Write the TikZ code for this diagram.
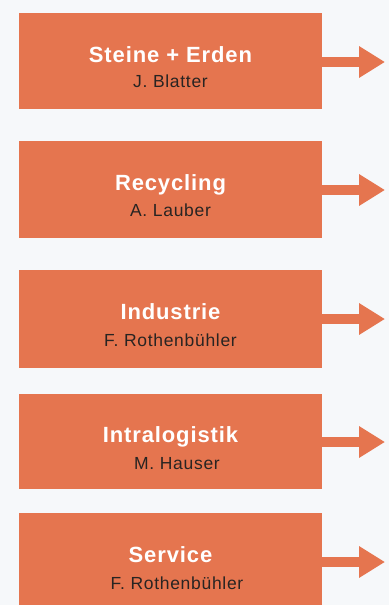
\documentclass[tikz,border=0pt]{standalone}
\usepackage{fontspec}
\setmainfont{Liberation Sans}
\newfontfamily\headfont[LetterSpace=4]{Liberation Sans}
\newfontfamily\namefont[LetterSpace=4]{Liberation Sans}
\usetikzlibrary{arrows.meta}
\definecolor{boxorange}{RGB}{229,117,79}
\definecolor{pagebg}{RGB}{246,248,250}
\definecolor{namegray}{RGB}{40,36,34}
\begin{document}
\begin{tikzpicture}[x=1pt,y=-1pt]
            \tikzstyle{every node}=[inner sep=0pt, outer sep=0pt]
            \tikzstyle{unit}=[rectangle, fill=boxorange, minimum width=303pt]
            \tikzstyle{division}=[anchor=base, text=white, font=\headfont\bfseries\fontsize{22}{22}\selectfont]
            \tikzstyle{person}=[anchor=base, text=namegray, font=\namefont\fontsize{17.5}{17.5}\selectfont]
            \tikzstyle{outarrow}=[boxorange, line width=10pt, -{Triangle[length=26pt,width=30pt]}]

            \fill[pagebg] (0,0) rectangle (389,605);
            \useasboundingbox (0,0) rectangle (389,605);

            \node[unit, minimum height=96pt] (steine) at (170.5,61) {};
            \node[unit, minimum height=97pt] (recycling) at (170.5,189.5) {};
            \node[unit, minimum height=98pt] (industrie) at (170.5,319) {};
            \node[unit, minimum height=95pt] (intralogistik) at (170.5,441.5) {};
            \node[unit, minimum height=92pt] (service) at (170.5,559) {};

            \node[division] (steine-t) at (170.5,62) {Steine + Erden};
            \node[person] (steine-n) at (170.5,87) {J. Blatter};
            \node[division] (recycling-t) at (170.5,190) {Recycling};
            \node[person] (recycling-n) at (170.5,216) {A. Lauber};
            \node[division] (industrie-t) at (170.5,319) {Industrie};
            \node[person] (industrie-n) at (170.5,346) {F. Rothenbühler};
            \node[division] (intralogistik-t) at (170.5,442) {Intralogistik};
            \node[person] (intralogistik-n) at (177,469) {M. Hauser};
            \node[division] (service-t) at (170.5,562) {Service};
            \node[person] (service-n) at (177,589) {F. Rothenbühler};

            \coordinate (tip) at (385,0);
            \draw[outarrow] (steine.east |- steine-t.base) -- (steine-t.base -| tip);
            \draw[outarrow] (recycling.east |- recycling-t.base) -- (recycling-t.base -| tip);
            \draw[outarrow] (industrie.east |- industrie-t.base) -- (industrie-t.base -| tip);
            \draw[outarrow] (intralogistik.east |- intralogistik-t.base) -- (intralogistik-t.base -| tip);
            \draw[outarrow] (service.east |- service-t.base) -- (service-t.base -| tip);
        \end{tikzpicture}
\end{document}
